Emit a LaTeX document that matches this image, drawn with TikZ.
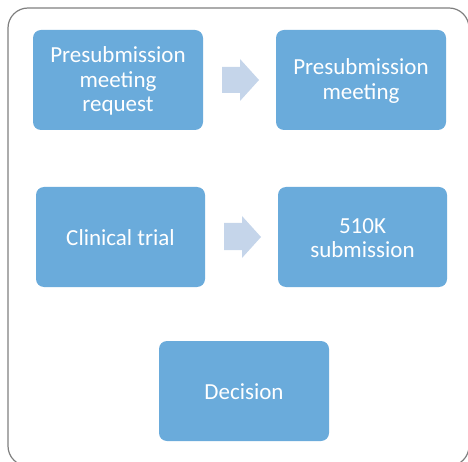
\documentclass[tikz,border=0pt]{standalone}
\usepackage{fontspec}
\setmainfont{Carlito}
\definecolor{boxblue}{HTML}{6AABDB}
\definecolor{arrblue}{HTML}{C5D5EA}
\definecolor{framegray}{HTML}{7F7F7F}
\begin{document}
\begin{tikzpicture}[x=1pt,y=-1pt,
  stage/.style={fill=boxblue, rounded corners=8pt},
  stagetext/.style={text=white, align=center, font=\fontsize{23}{24.5}\selectfont},
  blockarrow/.style={fill=arrblue}]
\path[use as bounding box] (0,0) rectangle (468,462);
\begin{scope}
\clip (0,0) rectangle (468,462);
\draw[framegray, line width=1.2pt, rounded corners=20pt] (8,8) rectangle (469,466);
\end{scope}
\path[stage] (33,30) rectangle (203,130);
\node[stagetext] (b1) at (118,81) {Presubmission\\meeting\\request};
\path[stage] (276,30) rectangle (446,130);
\node[stagetext] (b2) at (361,81) {Presubmission\\meeting};
\path[stage] (36,187) rectangle (205,287);
\node[stagetext] (b3) at (120.5,238) {Clinical trial};
\path[stage] (278,187) rectangle (447,287);
\node[stagetext] (b4) at (362.5,238) {510K\\submission};
\path[stage] (159,341) rectangle (329,441);
\node[stagetext] (b5) at (244,392) {Decision};
\fill[blockarrow] (222,67) -- (240,67) -- (240,59) -- (259,80) -- (240,101) -- (240,93) -- (222,93) -- cycle;
\fill[blockarrow] (224,223) -- (242,223) -- (242,216) -- (261,237) -- (242,258) -- (242,250) -- (224,250) -- cycle;
\end{tikzpicture}
\end{document}
